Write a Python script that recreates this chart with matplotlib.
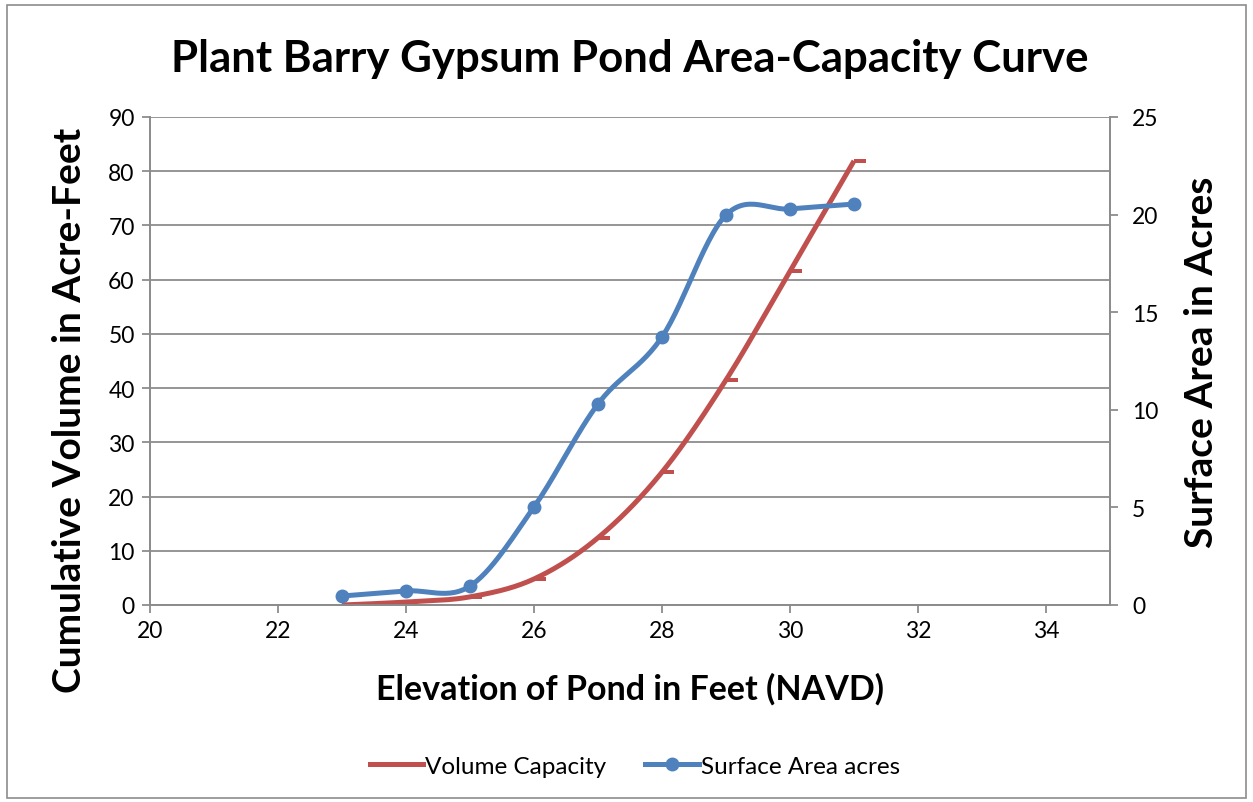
import numpy as np
import matplotlib
matplotlib.use("Agg")
import matplotlib.pyplot as plt
from matplotlib.lines import Line2D
from matplotlib.path import Path
from matplotlib.patches import Rectangle

# Data
elevation = [23, 24, 25, 26, 27, 28, 29, 30, 31]
volume_capacity = [0.0, 0.55, 1.5, 4.8, 12.4, 24.5, 41.5, 61.6, 81.9]
surface_area = [0.46, 0.72, 0.97, 5.02, 10.3, 13.73, 19.98, 20.29, 20.54]

RED = '#C0504D'
BLUE = '#4F81BD'
GRID = '#8C8C8C'
FONT = 'Lato'

plt.rcParams['font.family'] = [FONT, 'DejaVu Sans']


def smooth(x, y, n=30):
    """Excel-style smoothed line (Catmull-Rom through the points)."""
    x = np.asarray(x, float)
    y = np.asarray(y, float)
    px = np.concatenate([[x[0]], x, [x[-1]]])
    py = np.concatenate([[y[0]], y, [y[-1]]])
    xs, ys = [], []
    t = np.linspace(0, 1, n)
    for i in range(1, len(px) - 2):
        p0, p1, p2, p3 = px[i - 1], px[i], px[i + 1], px[i + 2]
        q0, q1, q2, q3 = py[i - 1], py[i], py[i + 1], py[i + 2]
        # bezier control points
        cx1, cy1 = p1 + (p2 - p0) / 6, q1 + (q2 - q0) / 6
        cx2, cy2 = p2 - (p3 - p1) / 6, q2 - (q3 - q1) / 6
        b0 = (1 - t) ** 3
        b1 = 3 * (1 - t) ** 2 * t
        b2 = 3 * (1 - t) * t ** 2
        b3 = t ** 3
        xs.append(b0 * p1 + b1 * cx1 + b2 * cx2 + b3 * p2)
        ys.append(b0 * q1 + b1 * cy1 + b2 * cy2 + b3 * q2)
    return np.concatenate(xs), np.concatenate(ys)


fig = plt.figure(figsize=(12.53, 8.03), dpi=100)
ax = fig.add_axes([150 / 1253, 1 - 606 / 803, 960 / 1253, 488 / 803])
ax2 = ax.twinx()

# outer chart border
fig.patches.append(Rectangle((7 / 1253, 4 / 803), 1239 / 1253, 793 / 803,
                             transform=fig.transFigure, fill=False,
                             edgecolor='#8C8C8C', linewidth=1.2))

# Volume capacity (left axis)
sx, sy = smooth(elevation, volume_capacity)
ax.plot(sx, sy, color=RED, linewidth=3.6, solid_capstyle='butt', zorder=3)
dash = Path([(0, -0.2), (1, -0.2), (1, 0.2), (0, 0.2), (0, -0.2)])
ax.plot(elevation, volume_capacity, linestyle='none', marker=dash,
        markersize=17, color=RED, markeredgewidth=0, zorder=4)

# Surface area (right axis)
bx, by = smooth(elevation, surface_area)
ax2.plot(bx, by, color=BLUE, linewidth=3.6, zorder=3)
ax2.plot(elevation, surface_area, linestyle='none', marker='o',
         markersize=9, color=BLUE, zorder=4)

ax.set_xlim(20, 35)
ax.set_ylim(0, 90)
ax2.set_ylim(0, 25)
ax.set_xticks(np.arange(20, 35, 2))
ax.set_yticks(np.arange(0, 91, 10))
ax2.set_yticks(np.arange(0, 26, 5))

ax.grid(axis='y', color=GRID, linewidth=1.3)
ax.set_axisbelow(True)
for a in (ax, ax2):
    a.spines['top'].set_visible(False)
    for s in ('left', 'right', 'bottom'):
        a.spines[s].set_color(GRID)
        a.spines[s].set_linewidth(1.3)
    a.tick_params(colors=GRID, labelcolor='black', labelsize=16.5,
                  length=6, width=1.3, direction='out')
ax.tick_params(axis='x', pad=5)
ax.tick_params(axis='y', pad=5)
ax2.tick_params(axis='y', pad=10)

ax.set_title('Plant Barry Gypsum Pond Area-Capacity Curve',
             fontsize=31.5, fontweight='bold', pad=33)
ax.set_xlabel('Elevation of Pond in Feet (NAVD)', fontsize=24.5,
              fontweight='bold', labelpad=22)
ax.set_ylabel('Cumulative Volume in Acre-Feet', fontsize=28,
              fontweight='bold')
ax2.set_ylabel('Surface Area in Acres', fontsize=28, fontweight='bold')
ax.yaxis.set_label_coords(-0.066, 0.40)
ax2.yaxis.set_label_coords(1.077, 0.50)

handles = [Line2D([], [], color=RED, linewidth=3.6),
           Line2D([], [], color=BLUE, linewidth=3.6, marker='o', markersize=9)]
fig.legend(handles, ['Volume Capacity', 'Surface Area acres'],
           loc='center', bbox_to_anchor=(635 / 1253, 1 - 767 / 803),
           ncol=2, frameon=False, fontsize=17.5, handlelength=2.2,
           handletextpad=0.1, columnspacing=1.6)

fig.savefig('out.png', dpi=100)
